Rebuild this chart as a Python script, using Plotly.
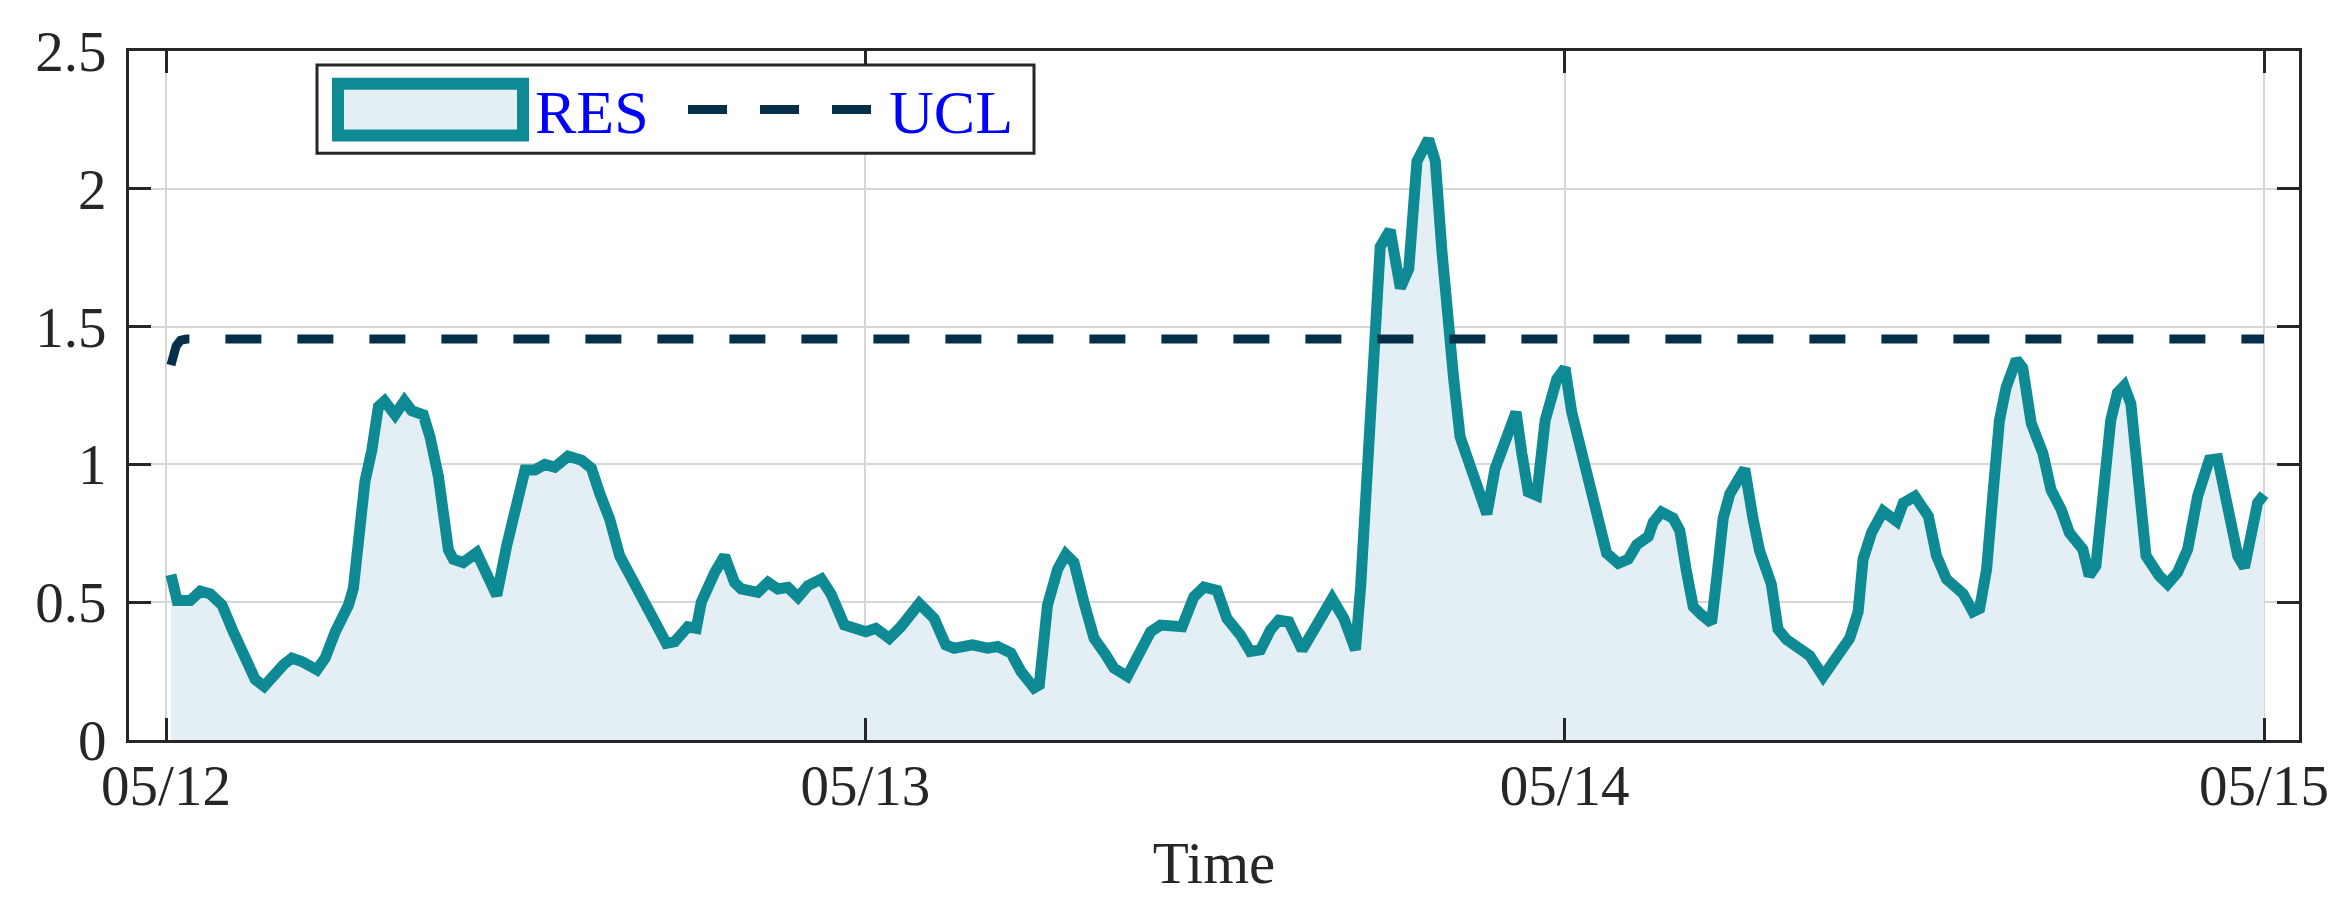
import pandas as pd
import plotly.graph_objects as go

# RES statistic (hours after 05/12 00:00, value)
res_hours = [
    0.17, 0.38, 0.83, 1.18, 1.52, 1.92, 2.32, 2.72, 3.06, 3.37, 3.75, 4.03, 4.32, 4.66,
    5.18, 5.46, 5.81, 6.26, 6.43, 6.66, 6.83, 7.06, 7.29, 7.50, 7.86, 8.18, 8.43, 8.83,
    9.06, 9.35, 9.69, 9.86, 10.2, 10.66, 10.95, 11.35, 11.69, 11.98, 12.32, 12.66,
    13.0, 13.34, 13.80, 14.26, 14.6, 14.88, 15.23, 15.57, 15.86, 16.31, 16.71, 17.17,
    17.46, 17.91, 18.2, 18.37, 18.83, 19.17, 19.51, 19.74, 20.31, 20.66, 21.0, 21.34,
    21.69, 22.03, 22.49, 22.82, 23.28, 23.57, 24.02, 24.36, 24.82, 25.22, 25.85, 26.36,
    26.76, 27.05, 27.68, 28.19, 28.54, 29.0, 29.34, 29.79, 29.97, 30.25, 30.6, 30.88,
    31.16, 31.5, 31.85, 32.25, 32.53, 32.99, 33.33, 33.79, 34.13, 34.87, 35.27, 35.62,
    36.07, 36.41, 36.87, 37.21, 37.56, 37.9, 38.19, 38.53, 38.99, 39.39, 40.02, 40.42,
    40.82, 41.0, 41.22, 41.45, 41.67, 42.01, 42.36, 42.65, 42.82, 42.93, 43.33, 43.56,
    43.79, 43.96, 44.19, 44.41, 44.87, 45.1, 45.33, 45.61, 45.96, 46.33, 46.53, 46.75,
    47.04, 47.33, 47.73, 48.01, 48.24, 48.58, 48.81, 49.1, 49.44, 49.84, 50.18, 50.47,
    50.87, 51.04, 51.32, 51.72, 51.95, 52.18, 52.41, 52.69, 53.04, 53.21, 53.44, 53.67,
    54.18, 54.46, 54.69, 55.09, 55.32, 55.61, 56.12, 56.41, 56.87, 57.21, 57.44, 57.78,
    58.07, 58.24, 58.53, 58.93, 59.39, 59.62, 60.02, 60.48, 60.76, 61.1, 61.67, 62.01,
    62.24, 62.48, 62.69, 62.92, 63.15, 63.5, 63.72, 64.01, 64.41, 64.69, 65.04, 65.32,
    65.78, 66.0, 66.23, 66.46, 66.74, 66.97, 67.2, 67.43, 67.66, 67.95, 68.4, 68.69,
    69.03, 69.38, 69.72, 70.12, 70.41, 70.75, 71.1, 71.33, 71.55, 71.78, 72.0,
]
res_values = [
    0.60, 0.506, 0.506, 0.54, 0.53, 0.49, 0.39, 0.285, 0.22, 0.195, 0.243, 0.273, 0.297, 0.285,
    0.255, 0.297, 0.393, 0.489, 0.55, 0.79, 0.94, 1.05, 1.21, 1.23, 1.18, 1.23, 1.195, 1.18,
    1.10, 0.955, 0.69, 0.656, 0.644, 0.68, 0.62, 0.525, 0.704, 0.836, 0.98, 0.98,
    1.0, 0.99, 1.03, 1.015, 0.986, 0.896, 0.80, 0.668, 0.608, 0.525, 0.429, 0.351,
    0.357, 0.411, 0.405, 0.50, 0.608, 0.668, 0.572, 0.548, 0.536, 0.572, 0.548, 0.554,
    0.518, 0.56, 0.584, 0.53, 0.417, 0.411, 0.393, 0.405, 0.369, 0.411, 0.495, 0.441,
    0.345, 0.333, 0.345, 0.333, 0.339, 0.315, 0.249, 0.189, 0.20, 0.489, 0.62, 0.674,
    0.644, 0.50, 0.369, 0.309, 0.261, 0.231, 0.297, 0.393, 0.417, 0.411, 0.519, 0.555,
    0.543, 0.441, 0.381, 0.321, 0.327, 0.399, 0.435, 0.429, 0.327, 0.393, 0.513, 0.441,
    0.327, 0.56, 0.98, 1.40, 1.79, 1.85, 1.64, 1.71, 2.0, 2.10, 2.18, 2.10,
    1.77, 1.55, 1.31, 1.10, 0.954, 0.864, 0.82, 0.984, 1.10, 1.19, 1.04, 0.90,
    0.887, 1.16, 1.31, 1.35, 1.19, 1.04, 0.954, 0.82, 0.678, 0.641, 0.656, 0.708,
    0.738, 0.79, 0.827, 0.805, 0.76, 0.611, 0.484, 0.455, 0.425, 0.581, 0.805, 0.894,
    0.984, 0.805, 0.686, 0.566, 0.402, 0.365, 0.328, 0.306, 0.231, 0.283, 0.31, 0.369,
    0.465, 0.656, 0.752, 0.83, 0.794, 0.86, 0.884, 0.812, 0.668, 0.584, 0.531, 0.465,
    0.477, 0.62, 0.884, 1.16, 1.28, 1.38, 1.35, 1.15, 1.04, 0.908, 0.836, 0.752,
    0.692, 0.596, 0.632, 0.908, 1.16, 1.26, 1.285, 1.22, 0.98, 0.668, 0.596, 0.566,
    0.608, 0.692, 0.884, 1.016, 1.02, 0.86, 0.668, 0.626, 0.764, 0.86, 0.89,
]

# control limit
ucl_hours = [0.17, 0.25, 0.35, 0.5, 0.7, 72.0]
ucl_values = [1.36, 1.40, 1.43, 1.45, 1.455, 1.455]

tick_dates = ["2023-05-12", "2023-05-13", "2023-05-14", "2023-05-15"]
y_ticks = [0, 0.5, 1, 1.5, 2, 2.5]
y_labels = ["0", "0.5", "1", "1.5", "2", "2.5"]

start = pd.Timestamp("2023-05-12")
res_time = start + pd.to_timedelta(res_hours, unit="h")
ucl_time = start + pd.to_timedelta(ucl_hours, unit="h")

TEAL = "#0e8a94"
NAVY = "#06304a"
FILL = "#e3eef5"
AXIS = "#262626"
FONT = "Liberation Serif"

fig = go.Figure()

fig.add_trace(go.Scatter(
    x=res_time, y=res_values, mode="lines", name="RES",
    line=dict(color=TEAL, width=11),
    fill="tozeroy", fillcolor=FILL,
    showlegend=False,
))

fig.add_trace(go.Scatter(
    x=ucl_time, y=ucl_values, mode="lines", name="UCL",
    line=dict(color=NAVY, width=9, dash="36px,36px"),
    showlegend=False,
))

# legend drawn by hand so the patch can be as large as in the original
W, H = 2351, 915
L, R, T, B = 121, 60, 38, 183
pw, ph = W - L - R, H - T - B
top_px = T  # legend geometry below is given relative to the plot box top


def px(x):
    # horizontal offset from the plot's left edge, in pixels -> paper
    return x / pw


def py(y):
    # vertical offset below the plot's top edge, in pixels -> paper
    return 1 - y / ph


shapes = [
    dict(type="rect", xref="paper", yref="paper",
         x0=px(188), x1=px(905), y0=py(103), y1=py(14),
         line=dict(color=AXIS, width=3), fillcolor="white"),
    dict(type="rect", xref="paper", yref="paper",
         x0=px(209), x1=px(394), y0=py(85), y1=py(33),
         line=dict(color=TEAL, width=12), fillcolor=FILL),
    dict(type="line", xref="paper", yref="paper",
         x0=px(559), x1=px(742), y0=py(59), y1=py(59),
         line=dict(color=NAVY, width=9, dash="39px,33px")),
]

annotations = [
    dict(text="RES", xref="paper", yref="paper", x=px(404), y=py(61),
         xanchor="left", yanchor="middle", showarrow=False,
         font=dict(family=FONT, size=62, color="#0000ff")),
    dict(text="UCL", xref="paper", yref="paper", x=px(758), y=py(61),
         xanchor="left", yanchor="middle", showarrow=False,
         font=dict(family=FONT, size=62, color="#0000ff")),
]

fig.update_layout(
    width=W, height=H,
    margin=dict(l=L, r=R, t=T, b=B),
    paper_bgcolor="white", plot_bgcolor="white",
    font=dict(family=FONT, size=57, color=AXIS),
    shapes=shapes, annotations=annotations,
    showlegend=False,
)

fig.update_xaxes(
    type="date",
    range=[start - pd.Timedelta(hours=1.27), start + pd.Timedelta(hours=73.2)],
    tickvals=tick_dates, tickformat="%m/%d",
    ticks="inside", ticklen=22, tickwidth=3, tickcolor=AXIS,
    showline=True, linewidth=3, linecolor=AXIS, mirror="ticks",
    showgrid=True, gridcolor="#d6d6d6", gridwidth=2,
    zeroline=False,
    tickfont=dict(family=FONT, size=57, color=AXIS),
    ticklabelstandoff=-6,
    title=dict(text="Time", font=dict(family=FONT, size=59, color=AXIS), standoff=26),
)

fig.update_yaxes(
    range=[0, 2.5],
    tickvals=y_ticks, ticktext=y_labels,
    ticks="inside", ticklen=22, tickwidth=3, tickcolor=AXIS,
    showline=True, linewidth=3, linecolor=AXIS, mirror="ticks",
    showgrid=True, gridcolor="#d6d6d6", gridwidth=2,
    zeroline=False,
    tickfont=dict(family=FONT, size=57, color=AXIS),
    ticklabelstandoff=8,
)

fig.write_html("out.html")
